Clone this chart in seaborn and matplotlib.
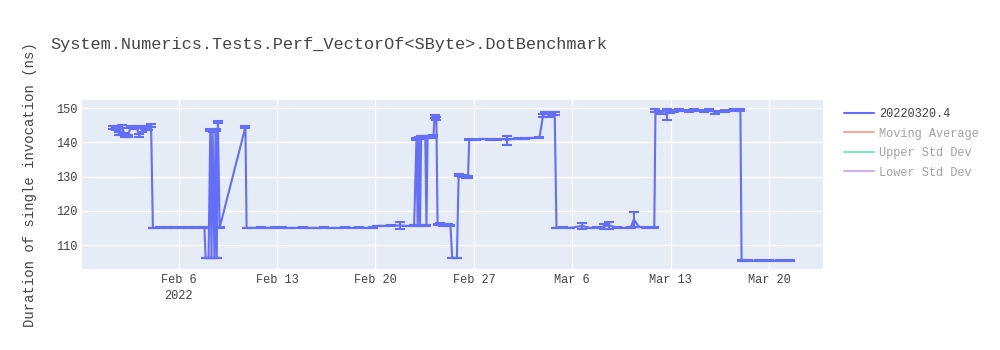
import numpy as np
import pandas as pd
import matplotlib
matplotlib.use("Agg")
import matplotlib.pyplot as plt
import matplotlib.dates as mdates
from matplotlib.lines import Line2D
import seaborn as sns

title = "System.Numerics.Tests.Perf_VectorOf<SByte>.DotBenchmark"
y_label = "Duration of single invocation (ns)"
series_name = "20220320.4"
hidden_series = ["Moving Average", "Upper Std Dev", "Lower Std Dev"]

run_dates = [
    "2022-02-01 08:00", "2022-02-01 13:00", "2022-02-01 18:00", "2022-02-01 23:00",
    "2022-02-02 04:00", "2022-02-02 09:00", "2022-02-02 14:00", "2022-02-02 19:00",
    "2022-02-03 00:00", "2022-02-03 05:00", "2022-02-03 10:00", "2022-02-03 15:00",
    "2022-02-03 20:00", "2022-02-04 01:00", "2022-02-04 04:00", "2022-02-04 16:00",
    "2022-02-05 04:00", "2022-02-05 16:00", "2022-02-06 04:00", "2022-02-06 16:00",
    "2022-02-07 04:00", "2022-02-07 20:00", "2022-02-07 22:00", "2022-02-08 03:00",
    "2022-02-08 06:00", "2022-02-08 08:00", "2022-02-08 10:00", "2022-02-08 13:00",
    "2022-02-08 15:00", "2022-02-08 17:00", "2022-02-08 19:00", "2022-02-08 22:00",
    "2022-02-10 18:00", "2022-02-10 20:00", "2022-02-11 08:00", "2022-02-11 20:00",
    "2022-02-12 08:00", "2022-02-12 20:00", "2022-02-13 08:00", "2022-02-13 20:00",
    "2022-02-14 08:00", "2022-02-14 20:00", "2022-02-15 08:00", "2022-02-15 20:00",
    "2022-02-16 08:00", "2022-02-16 20:00", "2022-02-17 08:00", "2022-02-17 20:00",
    "2022-02-18 08:00", "2022-02-18 20:00", "2022-02-19 08:00", "2022-02-19 20:00",
    "2022-02-20 02:00", "2022-02-20 14:00", "2022-02-21 02:00", "2022-02-21 18:00",
    "2022-02-22 06:00", "2022-02-22 18:00", "2022-02-22 22:00", "2022-02-23 00:00",
    "2022-02-23 02:00", "2022-02-23 04:00", "2022-02-23 06:00", "2022-02-23 09:00",
    "2022-02-23 13:00", "2022-02-23 15:00", "2022-02-23 17:00", "2022-02-23 22:00",
    "2022-02-24 03:00", "2022-02-24 05:00", "2022-02-24 08:00", "2022-02-24 10:00",
    "2022-02-24 14:00", "2022-02-24 20:00", "2022-02-25 03:00", "2022-02-25 08:00",
    "2022-02-25 11:00", "2022-02-25 19:00", "2022-02-25 22:00", "2022-02-26 04:00",
    "2022-02-26 10:00", "2022-02-26 14:00", "2022-02-26 16:00", "2022-02-27 04:00",
    "2022-02-27 16:00", "2022-02-28 04:00", "2022-02-28 16:00", "2022-03-01 04:00",
    "2022-03-01 08:00", "2022-03-01 16:00", "2022-03-02 04:00", "2022-03-02 16:00",
    "2022-03-03 04:00", "2022-03-03 16:00", "2022-03-03 22:00", "2022-03-04 02:00",
    "2022-03-04 08:00", "2022-03-04 18:00", "2022-03-04 21:00", "2022-03-05 08:00",
    "2022-03-05 20:00", "2022-03-06 17:00", "2022-03-07 06:00", "2022-03-07 18:00",
    "2022-03-08 06:00", "2022-03-08 14:00", "2022-03-09 04:00", "2022-03-09 16:00",
    "2022-03-10 04:00", "2022-03-10 09:00", "2022-03-10 18:00", "2022-03-11 06:00",
    "2022-03-11 20:00", "2022-03-11 22:00", "2022-03-12 08:00", "2022-03-12 17:00",
    "2022-03-12 22:00", "2022-03-13 06:00", "2022-03-13 14:00", "2022-03-14 08:00",
    "2022-03-14 16:00", "2022-03-15 08:00", "2022-03-15 18:00", "2022-03-16 04:00",
    "2022-03-16 20:00", "2022-03-17 12:00", "2022-03-17 23:00", "2022-03-18 01:00",
    "2022-03-18 12:00", "2022-03-19 06:00", "2022-03-20 00:00", "2022-03-20 18:00",
    "2022-03-21 12:00",
]

durations = [
    144.3, 144.1, 142.6, 144.6,
    142.2, 141.9, 144.5, 144.2,
    144.4, 142.0, 143.6, 144.3,
    144.0, 145.0, 115.0, 115.1,
    115.2, 115.2, 115.2, 115.1,
    115.2, 115.2, 106.2, 106.2,
    143.6, 106.2, 143.4, 106.2,
    143.7, 106.2, 146.0, 115.1,
    144.5, 115.0, 115.0, 115.1,
    115.0, 115.1, 115.1, 115.0,
    115.0, 115.1, 115.0, 115.0,
    115.1, 115.0, 115.0, 115.2,
    115.0, 115.1, 115.0, 115.1,
    115.6, 115.6, 115.7, 115.7,
    115.6, 115.7, 141.0, 115.7,
    141.3, 115.7, 141.5, 141.6,
    141.6, 115.8, 141.6, 141.7,
    141.8, 147.6, 147.0, 116.0,
    116.1, 115.9, 116.0, 115.8,
    106.2, 106.2, 130.4, 130.2,
    130.0, 130.0, 140.8, 140.9,
    141.0, 140.8, 140.8, 141.0,
    140.6, 141.0, 141.1, 141.2,
    141.3, 141.4, 147.8, 148.6,
    147.9, 148.4, 115.0, 115.1,
    115.0, 115.6, 115.0, 115.1,
    115.4, 115.8, 115.1, 115.0,
    115.2, 117.5, 115.3, 115.2,
    115.2, 149.4, 148.8, 148.1,
    149.0, 149.3, 149.5, 149.3,
    149.6, 149.3, 149.5, 148.8,
    149.1, 149.5, 149.6, 105.4,
    105.4, 105.4, 105.4, 105.4,
    105.4,
]

std_errs = [
    0.4, 0.5, 0.5, 0.4,
    0.5, 0.4, 0.4, 0.3,
    0.3, 0.5, 0.5, 0.4,
    0.5, 0.4, 0.1, 0.1,
    0.1, 0.1, 0.1, 0.1,
    0.1, 0.1, 0.1, 0.1,
    0.3, 0.1, 0.3, 0.1,
    0.3, 0.1, 0.3, 0.1,
    0.3, 0.1, 0.1, 0.1,
    0.1, 0.1, 0.1, 0.1,
    0.1, 0.1, 0.1, 0.1,
    0.1, 0.1, 0.1, 0.1,
    0.1, 0.1, 0.1, 0.1,
    0.1, 0.1, 0.1, 1.0,
    0.1, 0.1, 0.3, 0.1,
    0.3, 0.1, 0.3, 0.3,
    0.3, 0.1, 0.3, 0.3,
    0.3, 0.4, 0.5, 0.2,
    0.2, 0.2, 0.2, 0.2,
    0.1, 0.1, 0.3, 0.3,
    0.3, 0.3, 0.2, 0.1,
    0.1, 0.1, 0.1, 0.1,
    1.3, 0.1, 0.1, 0.1,
    0.1, 0.1, 0.4, 0.4,
    0.4, 0.4, 0.1, 0.1,
    0.1, 0.8, 0.1, 0.1,
    0.8, 1.0, 0.1, 0.1,
    0.1, 2.2, 0.1, 0.1,
    0.1, 0.4, 0.4, 1.6,
    0.4, 0.3, 0.3, 0.3,
    0.3, 0.3, 0.3, 0.4,
    0.3, 0.3, 0.3, 0.1,
    0.1, 0.1, 0.1, 0.1,
    0.1,
]

x_tick_dates = ["2022-02-06", "2022-02-13", "2022-02-20", "2022-02-27",
                "2022-03-06", "2022-03-13", "2022-03-20"]
x_tick_labels = ["Feb 6\n2022", "Feb 13", "Feb 20", "Feb 27", "Mar 6", "Mar 13", "Mar 20"]
y_ticks = [110, 120, 130, 140, 150]

x_range = ["2022-01-30 03:00", "2022-03-23 20:00"]
y_range = [103.0, 152.4]

sns.set_theme(style="darkgrid")
plt.rcParams['font.family'] = ['Liberation Mono', 'DejaVu Sans Mono']

LINE = '#636EFA'
TXT = '#444444'

df = pd.DataFrame({"date": pd.to_datetime(run_dates), "value": durations, "err": std_errs})

fig = plt.figure(figsize=(10, 3.5), dpi=100)
ax = fig.add_axes([0.082, 1 - 269 / 350, 0.741, 169 / 350])
ax.set_facecolor('#E5ECF6')

sns.lineplot(data=df, x="date", y="value", ax=ax, color=LINE, linewidth=1.5,
             estimator=None, sort=False, legend=False)
ax.errorbar(df["date"], df["value"], yerr=df["err"], fmt='none', ecolor=LINE,
            elinewidth=1.5, capsize=3.5, capthick=1.5)

ax.set_xlim(pd.to_datetime(x_range[0]), pd.to_datetime(x_range[1]))
ax.set_ylim(*y_range)
ax.set_xticks(pd.to_datetime(x_tick_dates))
ax.set_xticklabels(x_tick_labels)
ax.set_yticks(y_ticks)
ax.set_yticklabels([str(v) for v in y_ticks])
ax.grid(True, color='white', linewidth=1)
for s in ax.spines.values():
    s.set_visible(False)
ax.tick_params(axis='both', length=0, colors=TXT, labelsize=8.6)
ax.tick_params(axis='x', pad=3.5)
ax.tick_params(axis='y', pad=3.5)
for lbl in ax.get_xticklabels():
    lbl.set_linespacing(1.45)
ax.set_xlabel("")
ax.set_ylabel("")

fig.text(0.05, 1 - 45 / 350, title, fontsize=12.2, color=TXT, va='center', ha='left')
fig.text(0.030, 1 - 184.5 / 350, y_label, fontsize=10, color=TXT, rotation=90,
         va='center', ha='center')

handles = [Line2D([], [], color=LINE, linewidth=1.5)]
for c in ['#EF553B', '#00CC96', '#AB63FA']:
    handles.append(Line2D([], [], color=c, linewidth=1.5, alpha=0.5))
leg = fig.legend(handles, [series_name] + hidden_series, loc='upper left',
                 bbox_to_anchor=(0.844, 1 - 108 / 350), frameon=False, fontsize=8.6,
                 handlelength=2.5, handletextpad=0.45, labelspacing=0.63,
                 borderaxespad=0, borderpad=0)
for i, t in enumerate(leg.get_texts()):
    t.set_color(TXT if i == 0 else '#A2A2A2')

fig.savefig("out.png", dpi=100)
